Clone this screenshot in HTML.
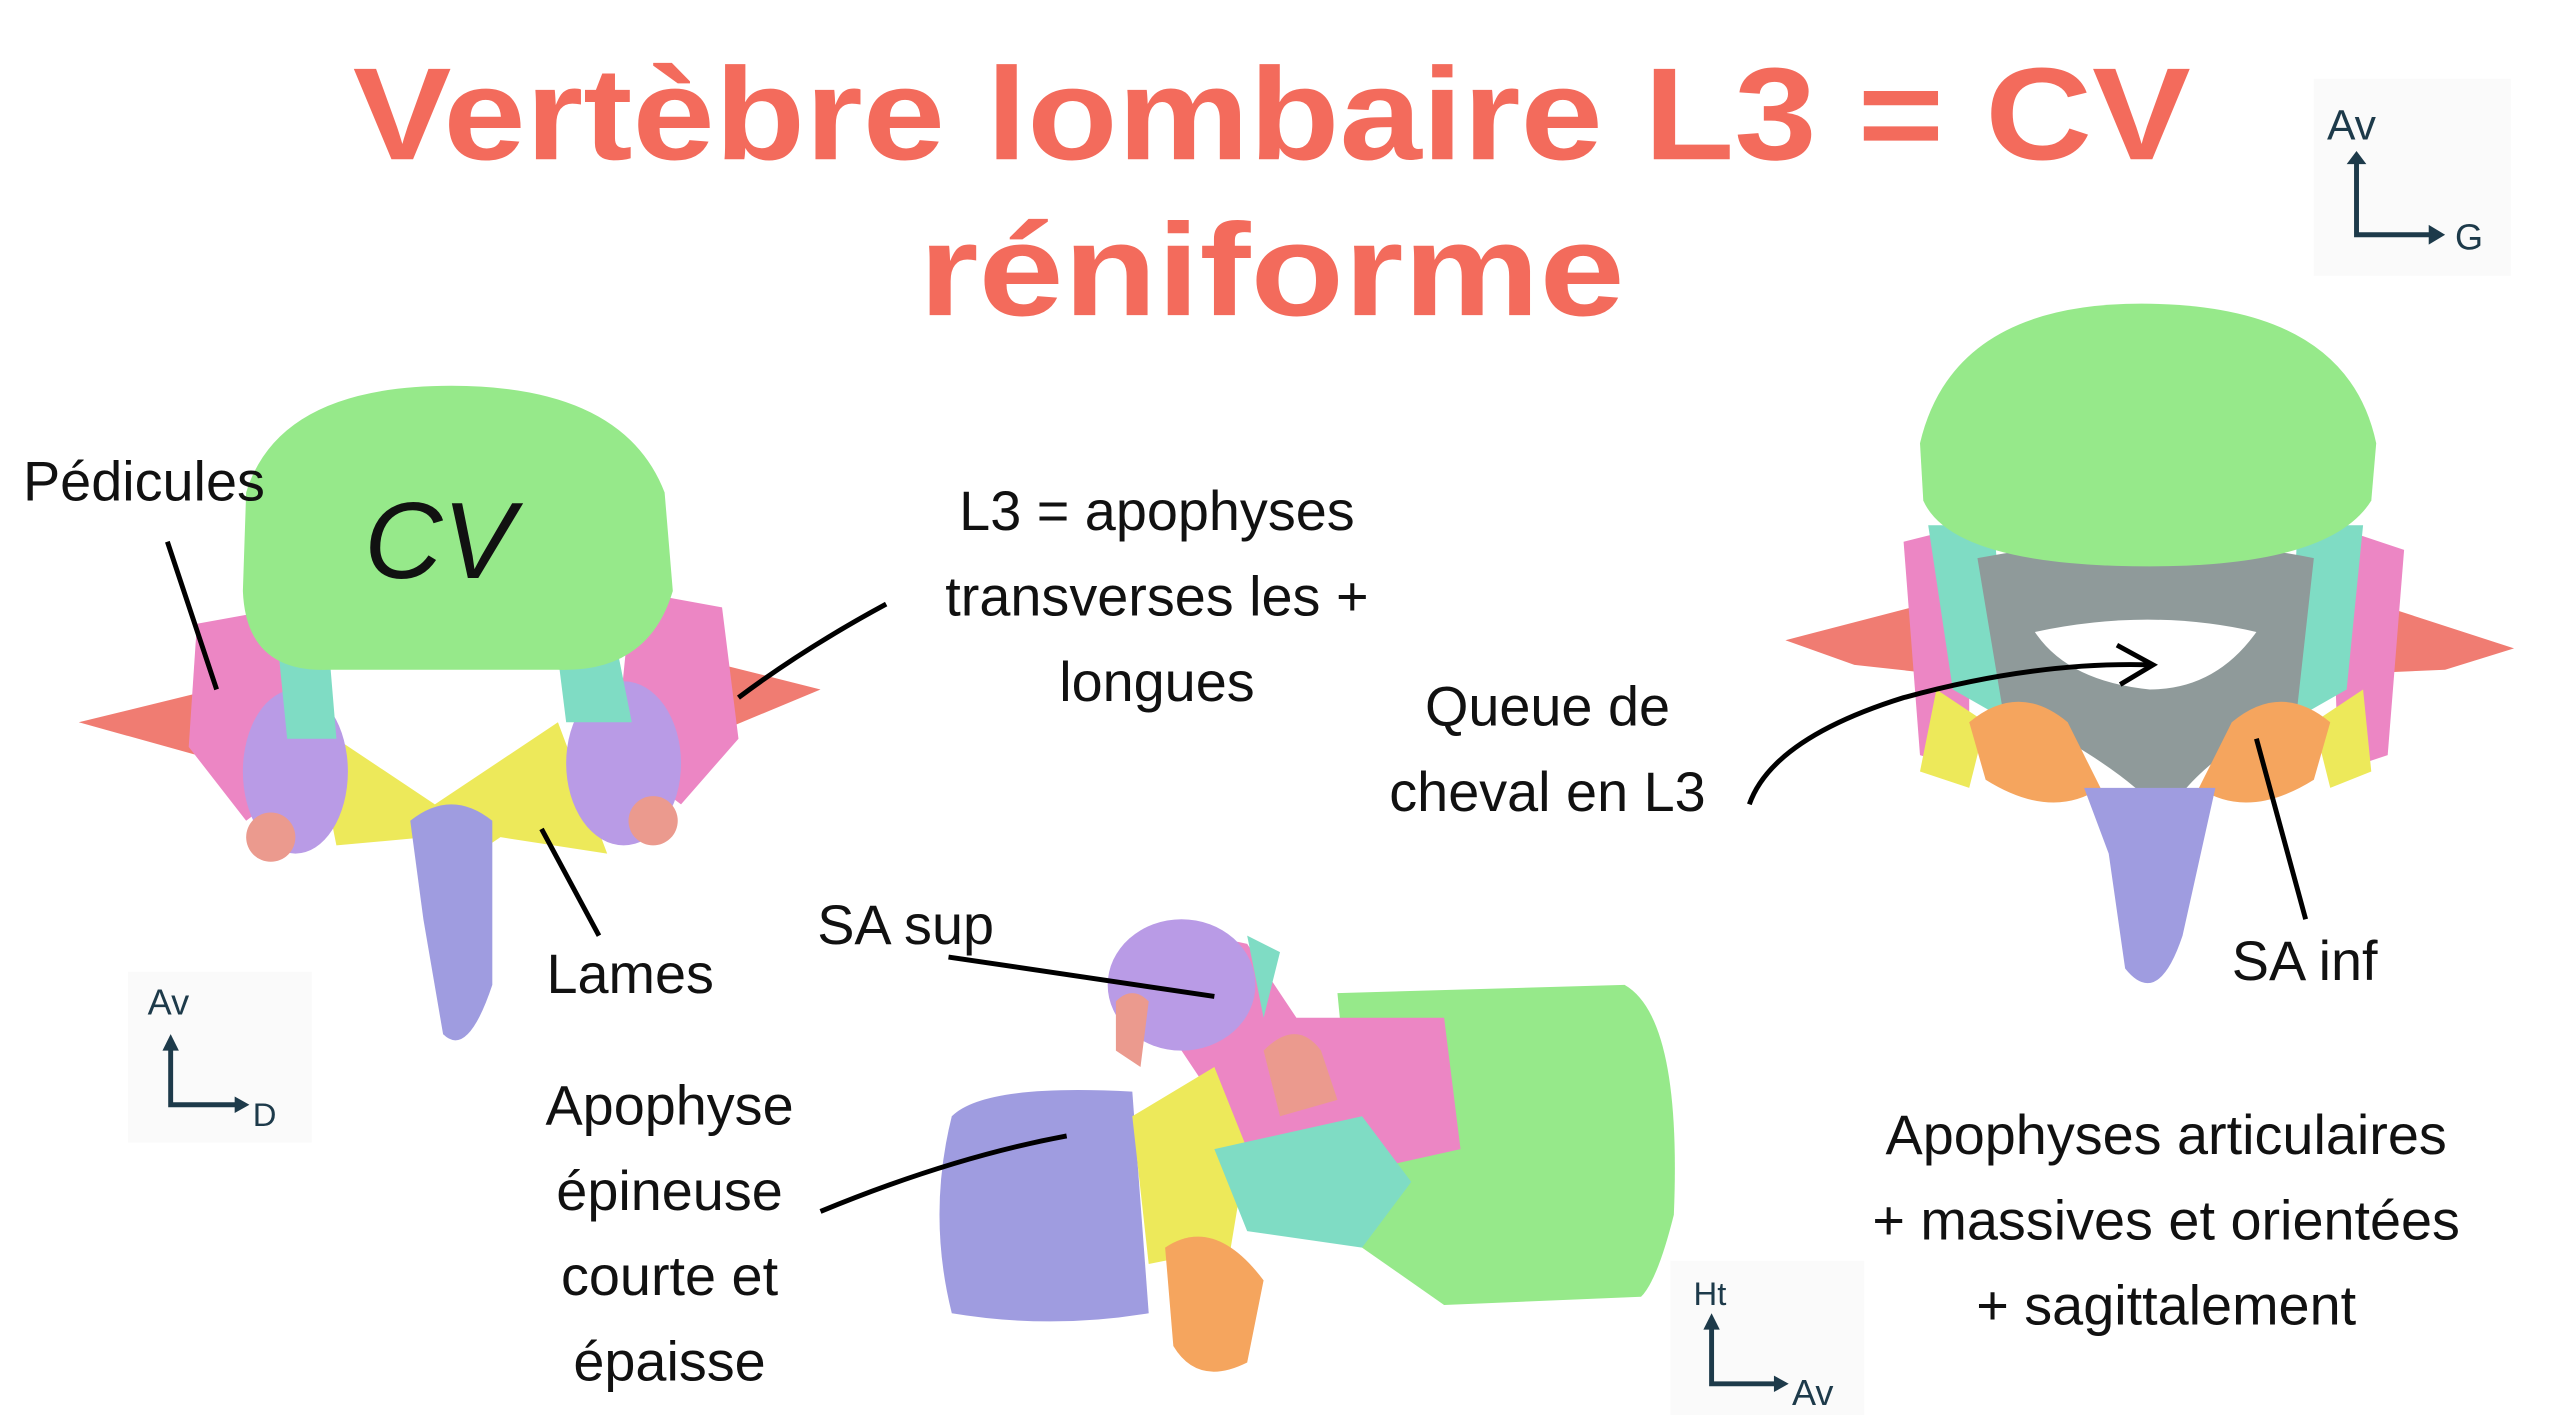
<!DOCTYPE html>
<html><head><meta charset="utf-8"><style>
html,body{margin:0;padding:0;background:#fff;}
svg{display:block;}
text{font-family:"Liberation Sans",sans-serif;}
</style></head><body>
<svg width="2560" height="1415" viewBox="0 0 1560 862" preserveAspectRatio="none" xmlns="http://www.w3.org/2000/svg">
<rect width="1560" height="862" fill="#fff"/>
<!-- Title -->
<text x="215" y="97" textLength="1120" lengthAdjust="spacingAndGlyphs" font-size="80" font-weight="bold" fill="#f36b5c">Vertèbre lombaire L3 = CV</text>
<text x="560" y="192" textLength="430" lengthAdjust="spacingAndGlyphs" font-size="80" font-weight="bold" fill="#f36b5c">réniforme</text>

<!-- Axis top right -->
<rect x="1410" y="48" width="120" height="120" fill="#fafafa"/>
<g stroke="#1d3a4a" stroke-width="3" fill="none"><path d="M1436 95 V143 H1482"/></g>
<path d="M1430 100 L1436 92 L1442 100Z M1480 137 L1490 143 L1480 149Z" fill="#1d3a4a"/>
<text x="1418" y="85" font-size="26" fill="#1d3a4a">Av</text>
<text x="1496" y="152" font-size="22" fill="#1d3a4a">G</text>

<!-- LEFT vertebra -->
<g>
<path d="M48 440 L150 415 L160 450 L120 460Z" fill="#f07c72"/>
<path d="M500 420 L400 395 L395 440 L440 445Z" fill="#f07c72"/>
<path d="M120 380 L175 370 L190 470 L150 500 L115 455Z" fill="#ec86c4"/>
<path d="M440 370 L385 360 L375 460 L415 490 L450 450Z" fill="#ec86c4"/>
<path d="M190 440 L265 490 L340 440 L370 520 L305 510 L290 520 L260 510 L205 515Z" fill="#ede95a"/>
<ellipse cx="180" cy="470" rx="32" ry="50" fill="#b99be6"/>
<ellipse cx="380" cy="465" rx="35" ry="50" fill="#b99be6"/>
<circle cx="165" cy="510" r="15" fill="#eb9a8e"/>
<circle cx="398" cy="500" r="15" fill="#eb9a8e"/>
<path d="M250 500 Q275 480 300 500 L300 600 Q285 645 270 630 L258 560Z" fill="#9f9ce0"/>
<path d="M170 400 L200 390 L205 450 L175 450Z" fill="#7fdcc4"/>
<path d="M340 400 L375 390 L385 440 L345 440Z" fill="#7fdcc4"/>
<path d="M150 300 Q170 235 275 235 Q380 235 405 300 L410 360 Q395 410 340 408 L200 408 Q150 410 148 360Z" fill="#96e98a"/>
</g>
<text x="222" y="352" font-size="66" fill="#111" font-style="italic">CV</text>
<text x="14" y="305" font-size="34" fill="#111">Pédicules</text>
<path d="M102 330 L132 420" stroke="#000" stroke-width="3" fill="none"/>
<text x="333" y="605" font-size="34" fill="#111">Lames</text>
<path d="M365 570 L330 505" stroke="#000" stroke-width="3" fill="none"/>
<text x="705" y="323" font-size="34" text-anchor="middle" fill="#111">L3 = apophyses</text>
<text x="705" y="375" font-size="34" text-anchor="middle" fill="#111">transverses les +</text>
<text x="705" y="427" font-size="34" text-anchor="middle" fill="#111">longues</text>
<path d="M540 368 Q490 395 450 425" stroke="#000" stroke-width="3" fill="none"/>
<!-- axis left -->
<rect x="78" y="592" width="112" height="104" fill="#fafafa"/>
<path d="M104 635 V673 H145" stroke="#1d3a4a" stroke-width="3" fill="none"/>
<path d="M99 640 L104 630 L109 640Z M143 668 L152 673 L143 678Z" fill="#1d3a4a"/>
<text x="90" y="618" font-size="22" fill="#1d3a4a">Av</text>
<text x="154" y="686" font-size="20" fill="#1d3a4a">D</text>

<!-- MIDDLE lateral -->
<g>
<path d="M580 680 Q600 660 690 665 L700 800 Q640 810 580 800 Q565 740 580 680Z" fill="#9f9ce0"/>
<path d="M815 605 L990 600 Q1025 620 1020 740 Q1010 780 1000 790 L880 795 L830 760Z" fill="#96e98a"/>
<path d="M680 590 Q720 565 760 575 L790 620 L880 620 L890 700 L800 720 L760 700 L720 640Z" fill="#ec86c4"/>
<ellipse cx="720" cy="600" rx="45" ry="40" fill="#b99be6"/>
<path d="M760 570 L780 580 L770 620Z" fill="#7fdcc4"/>
<path d="M690 680 L740 650 L760 700 L750 760 L700 770Z" fill="#ede95a"/>
<path d="M740 700 L830 680 L860 720 L830 760 L760 750Z" fill="#7fdcc4"/>
<path d="M710 760 Q740 740 770 780 L760 830 Q730 845 715 820Z" fill="#f5a55e"/>
<path d="M770 640 Q790 620 805 640 L815 670 L780 680Z" fill="#eb9a8e"/>
<path d="M680 610 Q690 600 700 610 L695 650 L680 640Z" fill="#eb9a8e"/>
</g>
<text x="498" y="575" font-size="34" fill="#111">SA sup</text>
<path d="M578 583 L740 607" stroke="#000" stroke-width="3" fill="none"/>
<text x="408" y="685" font-size="34" text-anchor="middle" fill="#111">Apophyse</text>
<text x="408" y="737" font-size="34" text-anchor="middle" fill="#111">épineuse</text>
<text x="408" y="789" font-size="34" text-anchor="middle" fill="#111">courte et</text>
<text x="408" y="841" font-size="34" text-anchor="middle" fill="#111">épaisse</text>
<path d="M500 738 Q580 705 650 692" stroke="#000" stroke-width="3" fill="none"/>
<!-- axis middle -->
<rect x="1018" y="768" width="118" height="94" fill="#fafafa"/>
<path d="M1043 805 V843 H1083" stroke="#1d3a4a" stroke-width="3" fill="none"/>
<path d="M1038 810 L1043 800 L1048 810Z M1081 838 L1090 843 L1081 848Z" fill="#1d3a4a"/>
<text x="1032" y="795" font-size="20" fill="#1d3a4a">Ht</text>
<text x="1092" y="856" font-size="22" fill="#1d3a4a">Av</text>

<!-- RIGHT vertebra -->
<g>
<path d="M1088 390 L1165 370 L1175 410 L1130 405Z" fill="#f07c72"/>
<path d="M1532 395 L1455 370 L1445 410 L1490 408Z" fill="#f07c72"/>
<path d="M1160 330 L1200 320 L1200 470 L1170 460 Z" fill="#ec86c4"/>
<path d="M1465 335 L1420 320 L1425 470 L1455 460Z" fill="#ec86c4"/>
<path d="M1175 320 L1215 320 L1225 440 L1190 420Z" fill="#7fdcc4"/>
<path d="M1400 320 L1440 320 L1430 420 L1395 440Z" fill="#7fdcc4"/>
<path d="M1205 340 Q1310 320 1410 340 L1400 430 Q1330 470 1320 500 Q1300 470 1220 430Z" fill="#8f9a9a"/>
<path d="M1240 385 Q1310 370 1375 385 Q1350 420 1310 420 Q1260 415 1240 385Z" fill="#fff"/>
<path d="M1180 420 L1210 440 L1200 480 L1170 470Z" fill="#ede95a"/>
<path d="M1440 420 L1410 440 L1420 480 L1445 470Z" fill="#ede95a"/>
<path d="M1200 440 Q1230 415 1260 440 L1280 480 Q1250 500 1210 475Z" fill="#f5a55e"/>
<path d="M1420 440 Q1390 415 1360 440 L1340 480 Q1370 500 1410 475Z" fill="#f5a55e"/>
<path d="M1270 480 L1350 480 L1330 570 Q1315 615 1295 590 L1285 520Z" fill="#9f9ce0"/>
<path d="M1170 270 Q1190 185 1305 185 Q1430 185 1448 270 L1445 305 Q1420 345 1310 345 Q1190 345 1172 305Z" fill="#96e98a"/>
</g>
<text x="943" y="442" font-size="34" text-anchor="middle" fill="#111">Queue de</text>
<text x="943" y="494" font-size="34" text-anchor="middle" fill="#111">cheval en L3</text>
<path d="M1066 490 Q1080 450 1160 425 Q1240 403 1310 405" stroke="#000" stroke-width="3" fill="none"/>
<path d="M1290 393 L1312 405 L1292 417" stroke="#000" stroke-width="3" fill="none"/>
<text x="1360" y="597" font-size="34" fill="#111">SA inf</text>
<path d="M1405 560 L1375 450" stroke="#000" stroke-width="3" fill="none"/>
<text x="1320" y="703" font-size="34" text-anchor="middle" fill="#111">Apophyses articulaires</text>
<text x="1320" y="755" font-size="34" text-anchor="middle" fill="#111">+ massives et orientées</text>
<text x="1320" y="807" font-size="34" text-anchor="middle" fill="#111">+ sagittalement</text>
</svg>
</body></html>
